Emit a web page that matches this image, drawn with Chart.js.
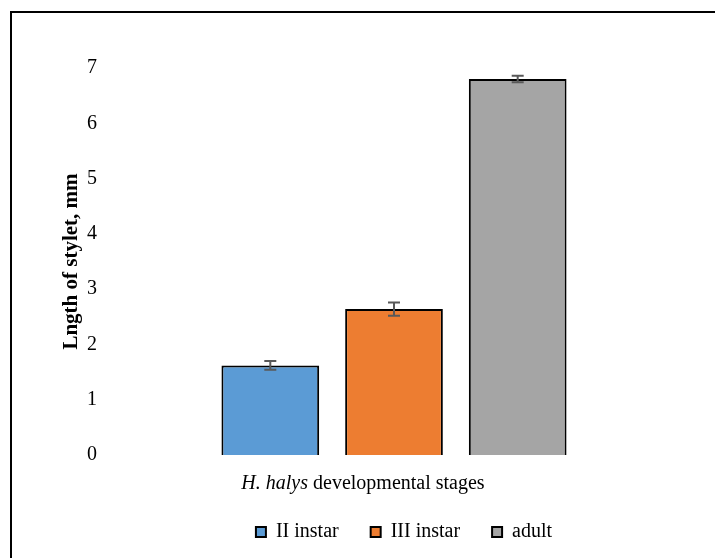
<!DOCTYPE html>
<html>
<head>
<meta charset="utf-8">
<script src="https://cdn.jsdelivr.net/npm/chart.js@4/dist/chart.umd.min.js"></script>
<style>
  html, body { margin: 0; padding: 0; background: #fff; }
  #wrap { position: relative; width: 715px; height: 558px; overflow: hidden; }
  #frame { position: absolute; left: 10px; top: 11px; width: 800px; height: 700px;
           border-top: 2px solid #000; border-left: 2px solid #000; pointer-events: none; }
  canvas { position: absolute; left: 0; top: 0; }
</style>
</head>
<body>
<div id="wrap">
  <canvas id="c" width="715" height="558"></canvas>
  <div id="frame"></div>
</div>
<script>
// ---- data ----
const stages = ['II instar', 'III instar', 'adult'];
const styletLength = [1.62, 2.64, 6.80];
const stdError = [0.08, 0.12, 0.06];
const barColors = ['#5B9BD5', '#ED7D31', '#A5A5A5'];
const yTicks = [0, 1, 2, 3, 4, 5, 6, 7];
const categoryLabels = [''];
const yTitle = 'Lngth of stylet, mm';
const xTitleItalic = 'H. halys';
const xTitleRest = ' developmental stages';

const FONT = '"Liberation Serif", "Times New Roman", serif';

const datasets = stages.map((s, i) => ({
  label: s,
  data: [styletLength[i]],
  backgroundColor: barColors[i],
  borderColor: '#000',
  borderWidth: 2,
  errorValue: stdError[i]
}));

const errorBars = {
  id: 'errorBars',
  afterDatasetsDraw(chart) {
    const ctx = chart.ctx;
    const y = chart.scales.y;
    ctx.save();
    ctx.strokeStyle = '#595959';
    ctx.lineWidth = 2;
    chart.data.datasets.forEach((ds, i) => {
      const meta = chart.getDatasetMeta(i);
      meta.data.forEach((el, j) => {
        const v = ds.data[j], e = ds.errorValue;
        const yt = y.getPixelForValue(v + e), yb = y.getPixelForValue(v - e);
        const x = el.x, w = 6;
        ctx.beginPath();
        ctx.moveTo(x, yt); ctx.lineTo(x, yb);
        ctx.moveTo(x - w, yt); ctx.lineTo(x + w, yt);
        ctx.moveTo(x - w, yb); ctx.lineTo(x + w, yb);
        ctx.stroke();
      });
    });
    ctx.restore();
  }
};

const xTitle = {
  id: 'xTitle',
  afterDraw(chart) {
    const ctx = chart.ctx;
    ctx.save();
    ctx.fillStyle = '#000';
    ctx.textBaseline = 'alphabetic';
    ctx.font = 'italic 20px ' + FONT;
    const w1 = ctx.measureText(xTitleItalic).width;
    ctx.font = '20px ' + FONT;
    const w2 = ctx.measureText(xTitleRest).width;
    const cx = 363;
    const x0 = cx - (w1 + w2) / 2;
    const yb = chart.chartArea.bottom + 34;
    ctx.font = 'italic 20px ' + FONT;
    ctx.fillText(xTitleItalic, x0, yb);
    ctx.font = '20px ' + FONT;
    ctx.fillText(xTitleRest, x0 + w1, yb);
    ctx.restore();
  }
};

// nudge the legend block slightly right, as in the reference
const legendShift = {
  id: 'legendShift',
  afterLayout(chart) {
    if (chart.legend) { chart.legend.left += 10; chart.legend.right += 10; }
  }
};

new Chart(document.getElementById('c'), {
  type: 'bar',
  data: { labels: categoryLabels, datasets },
  plugins: [errorBars, xTitle, legendShift],
  options: {
    responsive: false,
    animation: false,
    layout: { padding: { top: 68, right: 32, left: 0, bottom: 6 } },
    categoryPercentage: 0.642,
    barPercentage: 0.79,
    scales: {
      x: {
        grid: { display: false, drawTicks: false },
        border: { display: false },
        ticks: { display: false },
        afterFit(scale) { scale.height = 35; }
      },
      y: {
        min: 0, max: 7,
        afterBuildTicks(scale) { scale.ticks = yTicks.map(v => ({ value: v })); },
        grid: { display: false, drawTicks: false },
        border: { display: false },
        ticks: { padding: 8, color: '#000', font: { family: FONT, size: 20 } },
        title: {
          display: true, text: yTitle, color: '#000',
          font: { family: FONT, size: 21, weight: 'bold' },
          padding: { top: 59, bottom: 0 }
        },
        afterFit(scale) { scale.width = 105; }
      }
    },
    plugins: {
      tooltip: { enabled: false },
      legend: {
        position: 'bottom',
        fullSize: false,
        labels: {
          color: '#000',
          font: { family: FONT, size: 20 },
          boxWidth: 10, boxHeight: 10, padding: 32
        }
      }
    }
  }
});
</script>
</body>
</html>
